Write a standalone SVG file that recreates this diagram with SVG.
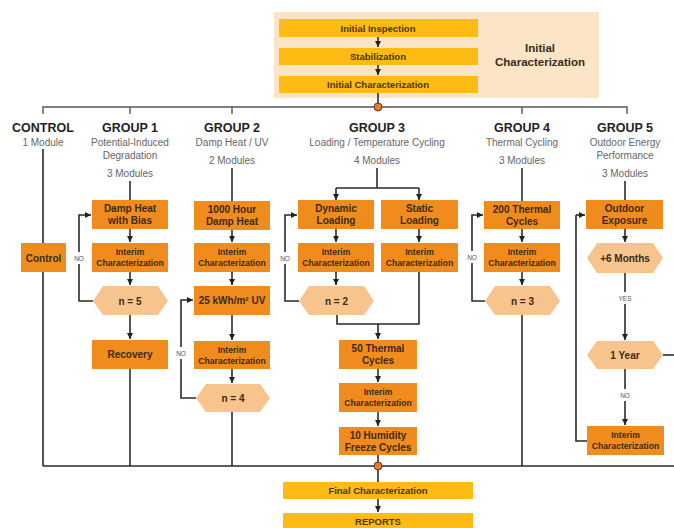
<svg xmlns="http://www.w3.org/2000/svg" width="674" height="528" viewBox="0 0 674 528">
<defs>
<marker id="ah" markerUnits="userSpaceOnUse" markerWidth="7" markerHeight="7" refX="6" refY="3.5" orient="auto">
<path d="M0,0.5 L6,3.5 L0,6.5 z" fill="#222"/>
</marker>
<style>
.bg{fill:#fbe5c6}
.bar{fill:#fdbb14}
.box{fill:#f08c1e}
.hex{fill:#f8c48e}
.ln{fill:none;stroke:#2a2a2a;stroke-width:1.6}
.tl{fill:none;stroke:#555;stroke-width:1.4}
.ar{fill:none;stroke:#2a2a2a;stroke-width:1.6;marker-end:url(#ah)}
.dot{fill:#e87a2c;stroke:#5a3a20;stroke-width:1}
text{font-family:"Liberation Sans",Arial,sans-serif;text-anchor:middle}
.bt{font-size:10px;font-weight:bold;fill:#3b2a15}
.it{font-size:8.6px;font-weight:bold;fill:#3b2a15}
.yt{font-size:9.5px;font-weight:bold;fill:#4a3410}
.hd{font-size:12.5px;font-weight:bold;fill:#222}
.sb{font-size:10px;fill:#666}
.no{font-size:6.5px;fill:#555}
</style>
</defs>

<g id="initial">
<rect class="bg" x="274" y="12" width="325" height="86"/>
<rect class="bar" x="279" y="19" width="199" height="18"/>
<text class="yt" x="378" y="31.5">Initial Inspection</text>
<rect class="bar" x="279" y="48" width="199" height="17"/>
<text class="yt" x="378" y="60">Stabilization</text>
<rect class="bar" x="279" y="76" width="199" height="17"/>
<text class="yt" x="378" y="88">Initial Characterization</text>
<text class="hd" x="540" y="52" style="font-size:11.5px;fill:#3a2a1a">Initial</text>
<text class="hd" x="540" y="66" style="font-size:11.5px;fill:#3a2a1a">Characterization</text>
</g>

<g id="headers">
<text class="hd" x="43" y="132">CONTROL</text>
<text class="sb" x="43" y="146">1 Module</text>
<text class="hd" x="130" y="132">GROUP 1</text>
<text class="sb" x="130" y="146">Potential-Induced</text>
<text class="sb" x="130" y="159">Degradation</text>
<text class="sb" x="130" y="177">3 Modules</text>
<text class="hd" x="232" y="132">GROUP 2</text>
<text class="sb" x="232" y="146">Damp Heat / UV</text>
<text class="sb" x="232" y="164">2 Modules</text>
<text class="hd" x="377" y="132">GROUP 3</text>
<text class="sb" x="377" y="146">Loading / Temperature Cycling</text>
<text class="sb" x="377" y="164">4 Modules</text>
<text class="hd" x="522" y="132">GROUP 4</text>
<text class="sb" x="522" y="146">Thermal Cycling</text>
<text class="sb" x="522" y="164">3 Modules</text>
<text class="hd" x="625" y="132">GROUP 5</text>
<text class="sb" x="625" y="146">Outdoor Energy</text>
<text class="sb" x="625" y="159">Performance</text>
<text class="sb" x="625" y="177">3 Modules</text>
</g>

<g id="connectors">
<path class="ar" d="M378,37 V47"/>
<path class="ar" d="M378,65 V75"/>
<path class="ln" d="M378,93 V107"/>
<path class="tl" d="M43,114 V107 H627 V114 M130,107 V114 M232,107 V114 M522,107 V114"/>
<!-- control -->
<path class="ln" d="M43,149 V466"/>
<!-- group 1 -->
<path class="ln" d="M130,181 V200"/>
<path class="ar" d="M130,229 V242"/>
<path class="ar" d="M130,272 V285"/>
<path class="ar" d="M130,315 V339"/>
<path class="ln" d="M130,369 V466"/>
<path class="ln" d="M93,301 H79 V264"/>
<path class="ar" d="M79,252 V215 H91"/>
<!-- group 2 -->
<path class="ln" d="M232,168 V201"/>
<path class="ar" d="M232,230 V242"/>
<path class="ar" d="M232,272 V285"/>
<path class="ar" d="M232,315 V340"/>
<path class="ar" d="M232,369 V383"/>
<path class="ln" d="M232,412 V466"/>
<path class="ln" d="M196,398 H181 V359"/>
<path class="ar" d="M181,347 V300 H193"/>
<!-- group 3 -->
<path class="ln" d="M377,168 V188"/>
<path class="ln" d="M336,188 H419"/>
<path class="ar" d="M336,188 V200"/>
<path class="ar" d="M419,188 V200"/>
<path class="ar" d="M336,229 V242"/>
<path class="ar" d="M419,229 V242"/>
<path class="ar" d="M336,272 V285"/>
<path class="ln" d="M337,315 V324 H419 V272"/>
<path class="ar" d="M378,324 V339"/>
<path class="ar" d="M378,369 V382"/>
<path class="ar" d="M378,412 V426"/>
<path class="ln" d="M378,455 V466"/>
<path class="ln" d="M299,301 H285 V264"/>
<path class="ar" d="M285,252 V215 H297"/>
<!-- group 4 -->
<path class="ln" d="M522,168 V201"/>
<path class="ar" d="M522,229 V242"/>
<path class="ar" d="M522,272 V285"/>
<path class="ln" d="M522,315 V466"/>
<path class="ln" d="M485,301 H472 V263"/>
<path class="ar" d="M472,251 V215 H483"/>
<!-- group 5 -->
<path class="ln" d="M625,181 V200"/>
<path class="ar" d="M625,229 V242"/>
<path class="ln" d="M625,273 V292"/>
<path class="ar" d="M625,304 V340"/>
<path class="ln" d="M625,369 V389"/>
<path class="ar" d="M625,401 V425"/>
<path class="ln" d="M663,355 H674"/>
<path class="ln" d="M587,441 H576 V215"/>
<path class="ar" d="M576,215 H585"/>
<!-- bottom -->
<path class="ln" d="M43,466 H674"/>
<path class="ln" d="M378,466 V482"/>
<path class="ar" d="M378,499 V512"/>
</g>
<circle class="dot" cx="378" cy="107" r="4"/>
<circle class="dot" cx="378" cy="466" r="4"/>

<g id="labels">
<text class="no" x="79" y="260.5">NO</text>
<text class="no" x="181" y="355.5">NO</text>
<text class="no" x="285" y="260.5">NO</text>
<text class="no" x="472" y="259.5">NO</text>
<text class="no" x="625" y="300.5">YES</text>
<text class="no" x="625" y="397.5">NO</text>
</g>

<g id="control"><rect class="box" x="21" y="243" width="45" height="29"/><text class="bt" x="43.5" y="261.5">Control</text></g>

<g id="g1-damp"><rect class="box" x="92" y="200" width="76" height="29"/><text class="bt" x="130" y="212">Damp Heat</text><text class="bt" x="130" y="224">with Bias</text></g>
<g id="g1-interim"><rect class="box" x="92" y="243" width="76" height="29"/><text class="it" x="130" y="255">Interim</text><text class="it" x="130" y="266">Characterization</text></g>
<g id="g1-n5"><polygon class="hex" points="93,301 103,286 158,286 168,301 158,315 103,315"/><text class="bt" x="130" y="304.5">n = 5</text></g>
<g id="g1-recovery"><rect class="box" x="92" y="340" width="76" height="29"/><text class="bt" x="130" y="358">Recovery</text></g>

<g id="g2-damp"><rect class="box" x="194" y="201" width="76" height="29"/><text class="bt" x="232" y="213">1000 Hour</text><text class="bt" x="232" y="225">Damp Heat</text></g>
<g id="g2-interim1"><rect class="box" x="194" y="243" width="76" height="29"/><text class="it" x="232" y="255">Interim</text><text class="it" x="232" y="266">Characterization</text></g>
<g id="g2-uv"><rect class="box" x="194" y="286" width="76" height="29"/><text class="bt" x="232" y="304">25 kWh/m² UV</text></g>
<g id="g2-interim2"><rect class="box" x="194" y="341" width="76" height="28"/><text class="it" x="232" y="352.5">Interim</text><text class="it" x="232" y="363.5">Characterization</text></g>
<g id="g2-n4"><polygon class="hex" points="196,398 206,384 260,384 270,398 260,412 206,412"/><text class="bt" x="233" y="401.5">n = 4</text></g>

<g id="g3-dynamic"><rect class="box" x="298" y="200" width="76" height="29"/><text class="bt" x="336" y="212">Dynamic</text><text class="bt" x="336" y="224">Loading</text></g>
<g id="g3-static"><rect class="box" x="381" y="200" width="77" height="29"/><text class="bt" x="419.5" y="212">Static</text><text class="bt" x="419.5" y="224">Loading</text></g>
<g id="g3-interim-d"><rect class="box" x="298" y="243" width="76" height="29"/><text class="it" x="336" y="255">Interim</text><text class="it" x="336" y="266">Characterization</text></g>
<g id="g3-interim-s"><rect class="box" x="381" y="243" width="77" height="29"/><text class="it" x="419.5" y="255">Interim</text><text class="it" x="419.5" y="266">Characterization</text></g>
<g id="g3-n2"><polygon class="hex" points="299,301 309,286 364,286 374,301 364,315 309,315"/><text class="bt" x="336.5" y="304.5">n = 2</text></g>
<g id="g3-thermal"><rect class="box" x="339" y="340" width="78" height="29"/><text class="bt" x="378" y="352">50 Thermal</text><text class="bt" x="378" y="364">Cycles</text></g>
<g id="g3-interim"><rect class="box" x="339" y="383" width="78" height="29"/><text class="it" x="378" y="395">Interim</text><text class="it" x="378" y="406">Characterization</text></g>
<g id="g3-humidity"><rect class="box" x="339" y="427" width="78" height="28"/><text class="bt" x="378" y="439">10 Humidity</text><text class="bt" x="378" y="451">Freeze Cycles</text></g>

<g id="g4-thermal"><rect class="box" x="484" y="201" width="76" height="28"/><text class="bt" x="522" y="212.5">200 Thermal</text><text class="bt" x="522" y="224.5">Cycles</text></g>
<g id="g4-interim"><rect class="box" x="484" y="243" width="76" height="29"/><text class="it" x="522" y="255">Interim</text><text class="it" x="522" y="266">Characterization</text></g>
<g id="g4-n3"><polygon class="hex" points="485,301 495,286 550,286 560,301 550,315 495,315"/><text class="bt" x="522.5" y="304.5">n = 3</text></g>

<g id="g5-outdoor"><rect class="box" x="586" y="200" width="77" height="29"/><text class="bt" x="624.5" y="212">Outdoor</text><text class="bt" x="624.5" y="224">Exposure</text></g>
<g id="g5-6m"><polygon class="hex" points="587,258 597,243 653,243 663,258 653,273 597,273"/><text class="bt" x="625" y="261.5">+6 Months</text></g>
<g id="g5-1y"><polygon class="hex" points="587,355 597,341 653,341 663,355 653,369 597,369"/><text class="bt" x="625" y="358.5">1 Year</text></g>
<g id="g5-interim"><rect class="box" x="587" y="426" width="77" height="29"/><text class="it" x="625.5" y="438">Interim</text><text class="it" x="625.5" y="449">Characterization</text></g>

<g id="final"><rect class="bar" x="283" y="482" width="190" height="17"/><text class="yt" x="378" y="494">Final Characterization</text></g>
<g id="reports"><rect class="bar" x="283" y="513" width="190" height="17"/><text class="yt" x="378" y="525">REPORTS</text></g>
</svg>
